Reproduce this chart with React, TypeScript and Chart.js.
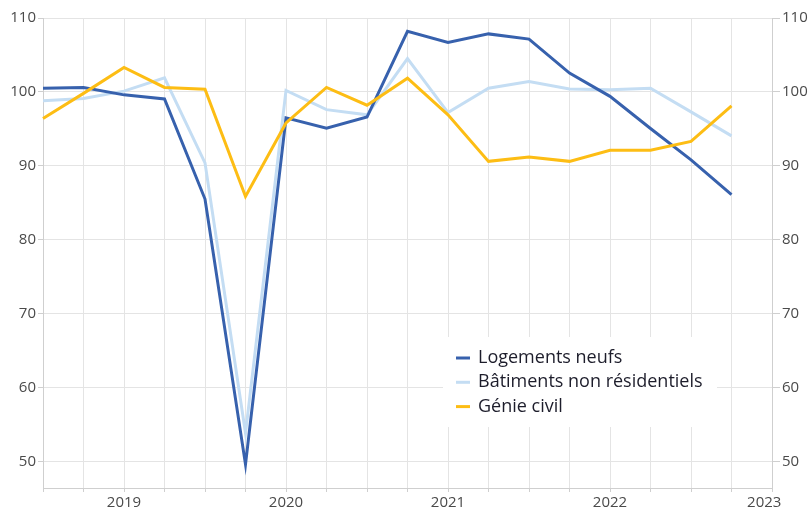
import React, { useEffect, useRef } from 'react';
import { Chart, registerables } from 'chart.js';

Chart.register(...registerables);

// Quarterly positions on the x axis (tick labels: one year label every 4 quarters)
const xTickLabels = ['', '', '2019', '', '', '', '2020', '', '', '', '2021', '', '', '', '2022', '', '', '', '2023'];

const seriesNames = ['Logements neufs', 'Bâtiments non résidentiels', 'Génie civil'];

const logementsNeufs = [100.5, 100.6, 99.6, 99.05, 85.5, 49.6, 96.5, 95.1, 96.6, 108.2, 106.7, 107.85, 107.15, 102.55, 99.4, 95.05, 90.8, 86.1];
const batimentsNonResidentiels = [98.8, 99.1, 100.1, 101.9, 90.4, 53.8, 100.2, 97.6, 96.9, 104.5, 97.2, 100.5, 101.4, 100.4, 100.3, 100.5, 97.3, 94.05];
const genieCivil = [96.4, 99.8, 103.3, 100.6, 100.35, 85.85, 95.8, 100.6, 98.2, 101.85, 96.9, 90.6, 91.2, 90.6, 92.1, 92.1, 93.3, 98.1];

const yTickValues = [50, 60, 70, 80, 90, 100, 110];
const yMin = 46.4;
const yMax = 110;

const colors = ['#3761ad', '#c4ddf3', '#fdbd14'];

const FONT = '"Open Sans", "Noto Sans", sans-serif';

const legendPlugin = {
  id: 'boxLegend',
  beforeDatasetsDraw(chart: any) {
    const ctx = chart.ctx;
    const { right, bottom } = chart.chartArea;
    const x0 = right - 329;
    const y0 = bottom - 151;
    ctx.save();
    ctx.fillStyle = '#ffffff';
    ctx.fillRect(x0, y0, 274, 90);
    ctx.font = `18px ${FONT}`;
    ctx.textBaseline = 'middle';
    ctx.textAlign = 'left';
    seriesNames.forEach((name, i) => {
      const y = y0 + 21 + i * 24.3;
      ctx.strokeStyle = colors[i];
      ctx.lineWidth = 3;
      ctx.beginPath();
      ctx.moveTo(x0 + 13, y);
      ctx.lineTo(x0 + 27, y);
      ctx.stroke();
      ctx.fillStyle = '#1d1d2b';
      ctx.fillText(name, x0 + 35, y);
    });
    ctx.restore();
  },
};

export default function App() {
  const canvasRef = useRef<HTMLCanvasElement | null>(null);

  useEffect(() => {
    if (!canvasRef.current) return;
    const setYTicks = (scale: any) => {
      scale.ticks = yTickValues.map((v) => ({ value: v }));
    };
    const tickFont = { family: FONT, size: 15 };
    const chart = new Chart(canvasRef.current, {
      type: 'line',
      data: {
        labels: xTickLabels,
        datasets: [
          { label: seriesNames[0], data: logementsNeufs, borderColor: colors[0], backgroundColor: colors[0], borderWidth: 3, pointRadius: 0, tension: 0, yAxisID: 'y', order: 1 },
          { label: seriesNames[1], data: batimentsNonResidentiels, borderColor: colors[1], backgroundColor: colors[1], borderWidth: 3, pointRadius: 0, tension: 0, yAxisID: 'y', order: 2 },
          { label: seriesNames[2], data: genieCivil, borderColor: colors[2], backgroundColor: colors[2], borderWidth: 3, pointRadius: 0, tension: 0, yAxisID: 'y', order: 0 },
        ],
      },
      options: {
        animation: false,
        responsive: true,
        maintainAspectRatio: false,
        layout: { padding: { top: 18, left: 0, right: 0, bottom: 0 } },
        plugins: {
          legend: { display: false },
          tooltip: { enabled: false },
        },
        scales: {
          x: {
            type: 'category',
            offset: false,
            grid: { color: '#e4e4e4', lineWidth: 1, tickLength: 4, tickColor: '#cfcfcf' },
            border: { color: '#cfcfcf', width: 1 },
            ticks: {
              autoSkip: false,
              maxRotation: 0,
              minRotation: 0,
              padding: 2,
              color: '#4a4a4a',
              font: tickFont,
              callback: (_v: any, i: number) => {
                const l = xTickLabels[i];
                return i === xTickLabels.length - 1 && l ? l + '    ' : l;
              },
            },
            afterFit: (scale: any) => {
              scale.height = 21;
            },
          },
          y: {
            position: 'left',
            min: yMin,
            max: yMax,
            afterBuildTicks: setYTicks,
            grid: { color: '#e4e4e4', lineWidth: 1, tickLength: 5, tickColor: '#cfcfcf' },
            border: { color: '#cfcfcf', width: 1 },
            ticks: { color: '#4a4a4a', padding: 2, font: tickFont },
            afterFit: (scale: any) => {
              scale.width = 43;
            },
          },
          y2: {
            position: 'right',
            min: yMin,
            max: yMax,
            afterBuildTicks: setYTicks,
            grid: { drawOnChartArea: false, tickLength: 8, tickColor: '#cfcfcf' },
            border: { color: '#cfcfcf', width: 1 },
            ticks: { color: '#4a4a4a', padding: 2, font: tickFont },
            afterFit: (scale: any) => {
              scale.width = 40;
            },
          },
        },
      },
      plugins: [legendPlugin],
    });
    return () => chart.destroy();
  }, []);

  return (
    <div style={{ position: 'fixed', left: 0, top: 0, width: 812, height: 509, background: '#ffffff' }}>
      <canvas ref={canvasRef} style={{ display: 'block' }} />
    </div>
  );
}
